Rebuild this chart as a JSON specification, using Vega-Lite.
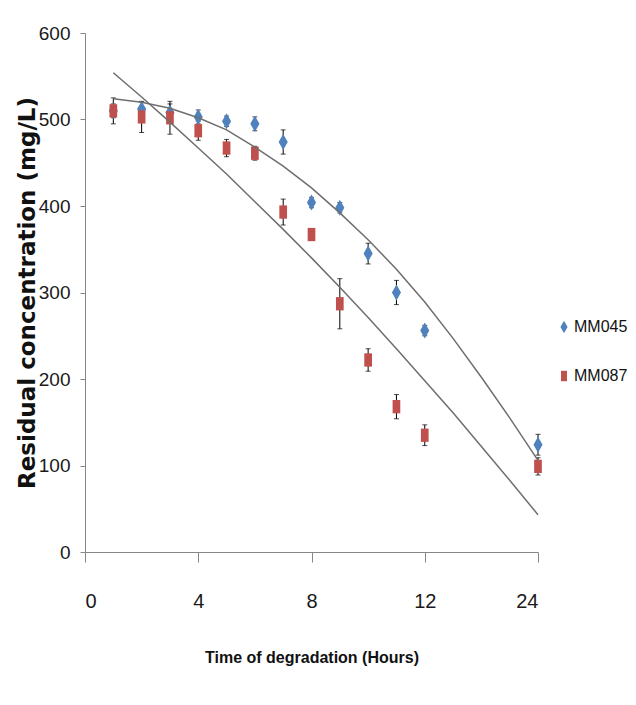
{
  "$schema": "https://vega.github.io/schema/vega-lite/v6.json",
  "width": 453,
  "height": 519,
  "autosize": {"type": "none"},
  "padding": {"left": 85, "top": 33, "right": 98, "bottom": 153},
  "background": "white",
  "config": {
    "view": {"stroke": null},
    "axis": {
      "grid": false,
      "domainColor": "#868686",
      "tickColor": "#868686",
      "labelColor": "#1a1a1a",
      "titleColor": "#111111",
      "labelFont": "Liberation Sans"
    }
  },
  "datasets": {
    "points": [
      {"series": "MM045", "hours": 1, "value": 510, "err": 8},
      {"series": "MM045", "hours": 2, "value": 512, "err": 8},
      {"series": "MM045", "hours": 3, "value": 508, "err": 10},
      {"series": "MM045", "hours": 4, "value": 503, "err": 8},
      {"series": "MM045", "hours": 5, "value": 498, "err": 6},
      {"series": "MM045", "hours": 6, "value": 495, "err": 8},
      {"series": "MM045", "hours": 7, "value": 474, "err": 14},
      {"series": "MM045", "hours": 8, "value": 404, "err": 6},
      {"series": "MM045", "hours": 9, "value": 398, "err": 6},
      {"series": "MM045", "hours": 10, "value": 345, "err": 12},
      {"series": "MM045", "hours": 11, "value": 300, "err": 14},
      {"series": "MM045", "hours": 12, "value": 256, "err": 6},
      {"series": "MM045", "hours": 24, "value": 124, "err": 12},
      {"series": "MM087", "hours": 1, "value": 510, "err": 15},
      {"series": "MM087", "hours": 2, "value": 503, "err": 18},
      {"series": "MM087", "hours": 3, "value": 502, "err": 19},
      {"series": "MM087", "hours": 4, "value": 487, "err": 11},
      {"series": "MM087", "hours": 5, "value": 467, "err": 10},
      {"series": "MM087", "hours": 6, "value": 461, "err": 8},
      {"series": "MM087", "hours": 7, "value": 393, "err": 15},
      {"series": "MM087", "hours": 8, "value": 367, "err": 6},
      {"series": "MM087", "hours": 9, "value": 287, "err": 29},
      {"series": "MM087", "hours": 10, "value": 222, "err": 13},
      {"series": "MM087", "hours": 11, "value": 168, "err": 14},
      {"series": "MM087", "hours": 12, "value": 135, "err": 12},
      {"series": "MM087", "hours": 24, "value": 99, "err": 10}
    ],
    "trend": [
      {"series": "MM045", "hours": 1, "value": 524},
      {"series": "MM045", "hours": 2, "value": 520},
      {"series": "MM045", "hours": 3, "value": 513},
      {"series": "MM045", "hours": 4, "value": 502},
      {"series": "MM045", "hours": 5, "value": 488},
      {"series": "MM045", "hours": 6, "value": 468},
      {"series": "MM045", "hours": 7, "value": 446},
      {"series": "MM045", "hours": 8, "value": 421},
      {"series": "MM045", "hours": 9, "value": 392},
      {"series": "MM045", "hours": 10, "value": 361},
      {"series": "MM045", "hours": 11, "value": 327},
      {"series": "MM045", "hours": 12, "value": 289},
      {"series": "MM045", "hours": 15, "value": 247},
      {"series": "MM045", "hours": 18, "value": 202},
      {"series": "MM045", "hours": 21, "value": 155},
      {"series": "MM045", "hours": 24, "value": 106},
      {"series": "MM087", "hours": 1, "value": 554},
      {"series": "MM087", "hours": 2, "value": 526},
      {"series": "MM087", "hours": 3, "value": 497},
      {"series": "MM087", "hours": 4, "value": 467},
      {"series": "MM087", "hours": 5, "value": 437},
      {"series": "MM087", "hours": 6, "value": 405},
      {"series": "MM087", "hours": 7, "value": 373},
      {"series": "MM087", "hours": 8, "value": 340},
      {"series": "MM087", "hours": 9, "value": 306},
      {"series": "MM087", "hours": 10, "value": 271},
      {"series": "MM087", "hours": 11, "value": 235},
      {"series": "MM087", "hours": 12, "value": 198},
      {"series": "MM087", "hours": 15, "value": 161},
      {"series": "MM087", "hours": 18, "value": 122},
      {"series": "MM087", "hours": 21, "value": 83},
      {"series": "MM087", "hours": 24, "value": 43}
    ]
  },
  "layer": [
    {
      "data": {"name": "points"},
      "mark": {"type": "errorbar", "color": "#000000", "thickness": 1, "ticks": {"size": 5, "color": "#000000"}},
      "encoding": {
        "x": {"field": "hours", "type": "quantitative", "title": "Time of degradation (Hours)",
              "scale": {"domain": [0, 12, 24], "range": [0, 339.75, 453], "zero": false, "nice": false}},
        "y": {"field": "value", "type": "quantitative", "title": "Residual concentration (mg/L)",
              "scale": {"domain": [0, 600], "nice": false}},
        "yError": {"field": "err"}
      }
    },
    {
      "data": {"name": "points"},
      "mark": {"type": "point", "filled": true, "opacity": 1, "size": 196, "strokeWidth": 0},
      "encoding": {
        "x": {"field": "hours", "type": "quantitative", "title": "Time of degradation (Hours)",
              "scale": {"domain": [0, 12, 24], "range": [0, 339.75, 453], "zero": false, "nice": false},
              "axis": {"values": [0, 4, 8, 12, 24],
                       "titleFont": "Liberation Sans",
                       "titleFontWeight": "bold", "titleFontSize": 16, "titlePadding": 38,
                       "labelFontSize": 20, "tickSize": 10, "labelPadding": 29}},
        "y": {"field": "value", "type": "quantitative", "title": "Residual concentration (mg/L)",
              "scale": {"domain": [0, 600], "nice": false},
              "axis": {"values": [0, 100, 200, 300, 400, 500, 600],
                       "titleFont": "DejaVu Sans", "titleFontWeight": "bold", "titleFontSize": 23, "titlePadding": -1,
                       "labelFontSize": 19, "tickSize": 5, "labelPadding": 10}},
        "color": {"field": "series", "type": "nominal",
                  "scale": {"domain": ["MM045", "MM087"], "range": ["#4F81BD", "#C0504D"]},
                  "legend": {"title": null, "orient": "none", "legendX": 471, "legendY": 286,
                             "labelFont": "Liberation Sans",
                             "labelFontSize": 16, "labelColor": "#111111", "symbolSize": 120, "symbolStrokeWidth": 0,
                             "rowPadding": 33, "labelOffset": 2}},
        "shape": {"field": "series", "type": "nominal",
                  "scale": {"domain": ["MM045", "MM087"],
                            "range": ["M0,-1.15L0.65,0L0,1.15L-0.65,0Z", "M-0.55,-0.95L0.55,-0.95L0.55,0.95L-0.55,0.95Z"]},
                  "legend": null}
      }
    },
    {
      "data": {"name": "trend"},
      "mark": {"type": "line", "color": "#6e6e6e", "strokeWidth": 1.5},
      "encoding": {
        "x": {"field": "hours", "type": "quantitative", "title": "Time of degradation (Hours)",
              "scale": {"domain": [0, 12, 24], "range": [0, 339.75, 453], "zero": false, "nice": false}},
        "y": {"field": "value", "type": "quantitative", "title": "Residual concentration (mg/L)",
              "scale": {"domain": [0, 600], "nice": false}},
        "detail": {"field": "series"}
      }
    }
  ]
}
